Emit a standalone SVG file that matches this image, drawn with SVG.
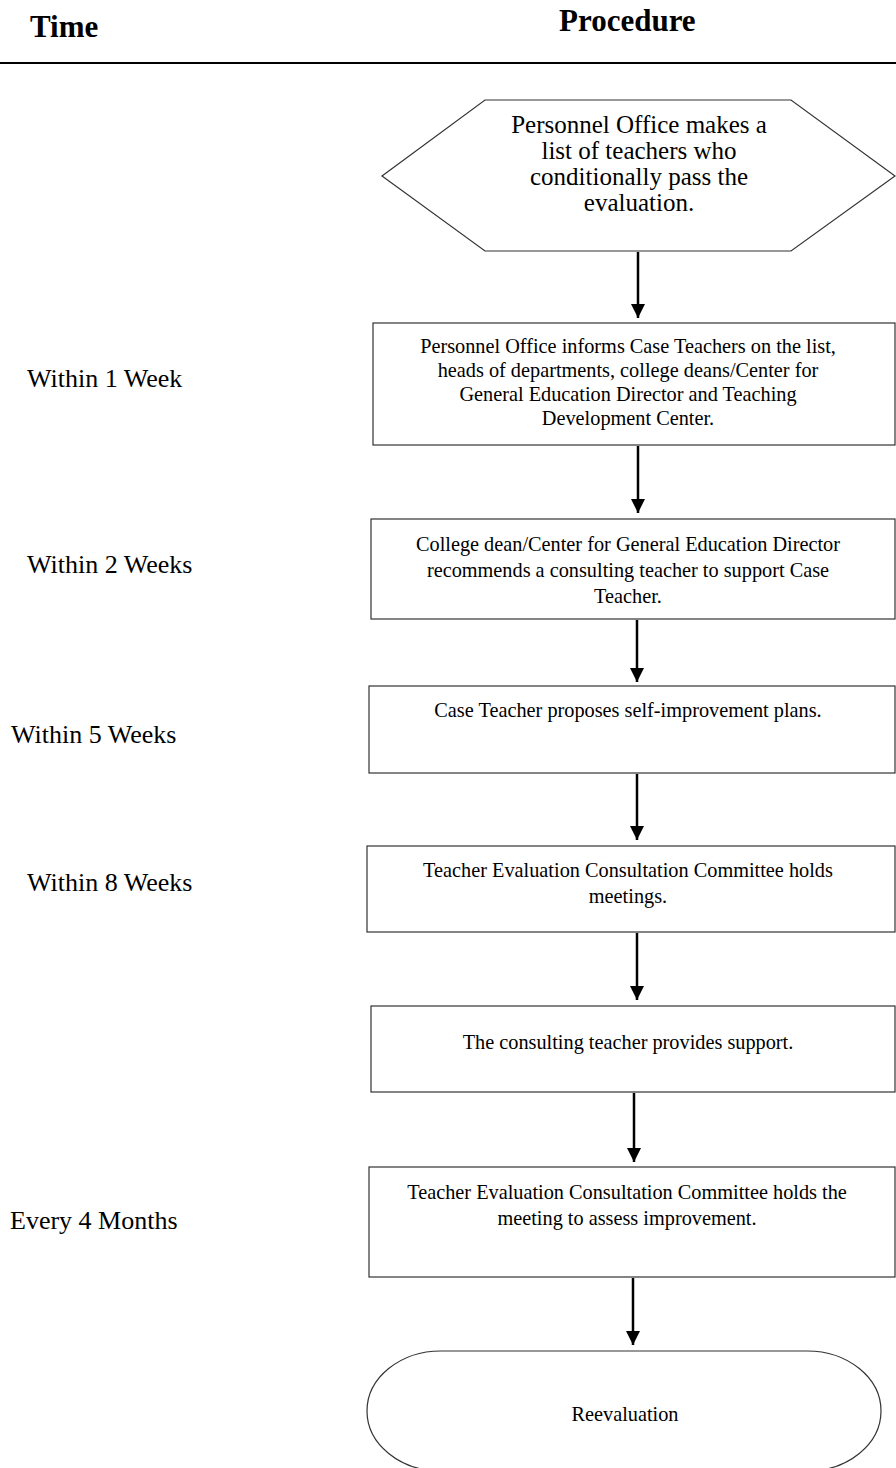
<svg xmlns="http://www.w3.org/2000/svg" width="896" height="1468" viewBox="0 0 896 1468">
<defs>
<style>
.hdr{font-family:"Liberation Serif","Times New Roman",serif;font-weight:bold;font-size:31px;fill:#000}
.lbl{font-family:"Liberation Serif","Times New Roman",serif;font-size:26px;fill:#000}
.bt{font-family:"Liberation Serif","Times New Roman",serif;font-size:20.3px;fill:#000;text-anchor:middle}
.ht{font-family:"Liberation Serif","Times New Roman",serif;font-size:25px;fill:#000;text-anchor:middle}
.box{fill:#fff;stroke:#333;stroke-width:1.2}
.conn{stroke:#000;stroke-width:2.5;fill:none}
</style>
<marker id="ah" viewBox="0 0 10 10" refX="10" refY="5" markerUnits="userSpaceOnUse" markerWidth="14" markerHeight="14" orient="auto">
<path d="M0,0 L10,5 L0,10 Z" fill="#000"/>
</marker>
</defs>
<rect width="896" height="1468" fill="#fff"/>
<g id="header">
<text class="hdr" x="30" y="37">Time</text>
<text class="hdr" x="559" y="31">Procedure</text>
<line x1="0" y1="63" x2="896" y2="63" stroke="#000" stroke-width="2.2"/>
</g>
<g id="time-labels">
<text class="lbl" x="27" y="387">Within 1 Week</text>
<text class="lbl" x="27" y="573">Within 2 Weeks</text>
<text class="lbl" x="11" y="743">Within 5 Weeks</text>
<text class="lbl" x="27" y="891">Within 8 Weeks</text>
<text class="lbl" x="10" y="1229">Every 4 Months</text>
</g>
<g id="connectors">
<line class="conn" x1="638" y1="252" x2="638" y2="318" marker-end="url(#ah)"/>
<line class="conn" x1="638" y1="446" x2="638" y2="513" marker-end="url(#ah)"/>
<line class="conn" x1="637" y1="620" x2="637" y2="682" marker-end="url(#ah)"/>
<line class="conn" x1="637" y1="774" x2="637" y2="840" marker-end="url(#ah)"/>
<line class="conn" x1="637" y1="933" x2="637" y2="1000" marker-end="url(#ah)"/>
<line class="conn" x1="634" y1="1093" x2="634" y2="1162" marker-end="url(#ah)"/>
<line class="conn" x1="633" y1="1278" x2="633" y2="1345" marker-end="url(#ah)"/>
</g>
<g id="n1">
<polygon class="box" points="382,176 485,100 791,100 895,176 791,251 485,251"/>
<text class="ht" x="639" y="133">Personnel Office makes a</text>
<text class="ht" x="639" y="159">list of teachers who</text>
<text class="ht" x="639" y="185">conditionally pass the</text>
<text class="ht" x="639" y="211">evaluation.</text>
</g>
<g id="n2">
<rect class="box" x="373" y="323" width="522" height="122"/>
<text class="bt" x="628" y="353">Personnel Office informs Case Teachers on the list,</text>
<text class="bt" x="628" y="377">heads of departments, college deans/Center for</text>
<text class="bt" x="628" y="401">General Education Director and Teaching</text>
<text class="bt" x="628" y="425">Development Center.</text>
</g>
<g id="n3">
<rect class="box" x="371" y="519" width="524" height="100"/>
<text class="bt" x="628" y="551">College dean/Center for General Education Director</text>
<text class="bt" x="628" y="577">recommends a consulting teacher to support Case</text>
<text class="bt" x="628" y="603">Teacher.</text>
</g>
<g id="n4">
<rect class="box" x="369" y="686" width="526" height="87"/>
<text class="bt" x="628" y="717">Case Teacher proposes self-improvement plans.</text>
</g>
<g id="n5">
<rect class="box" x="367" y="846" width="528" height="86"/>
<text class="bt" x="628" y="877">Teacher Evaluation Consultation Committee holds</text>
<text class="bt" x="628" y="903">meetings.</text>
</g>
<g id="n6">
<rect class="box" x="371" y="1006" width="524" height="86"/>
<text class="bt" x="628" y="1049">The consulting teacher provides support.</text>
</g>
<g id="n7">
<rect class="box" x="369" y="1167" width="526" height="110"/>
<text class="bt" x="627" y="1199">Teacher Evaluation Consultation Committee holds the</text>
<text class="bt" x="627" y="1225">meeting to assess improvement.</text>
</g>
<g id="n8">
<rect class="box" x="367" y="1351" width="514" height="120" rx="74" ry="60"/>
<text class="bt" x="625" y="1421">Reevaluation</text>
</g>
</svg>
